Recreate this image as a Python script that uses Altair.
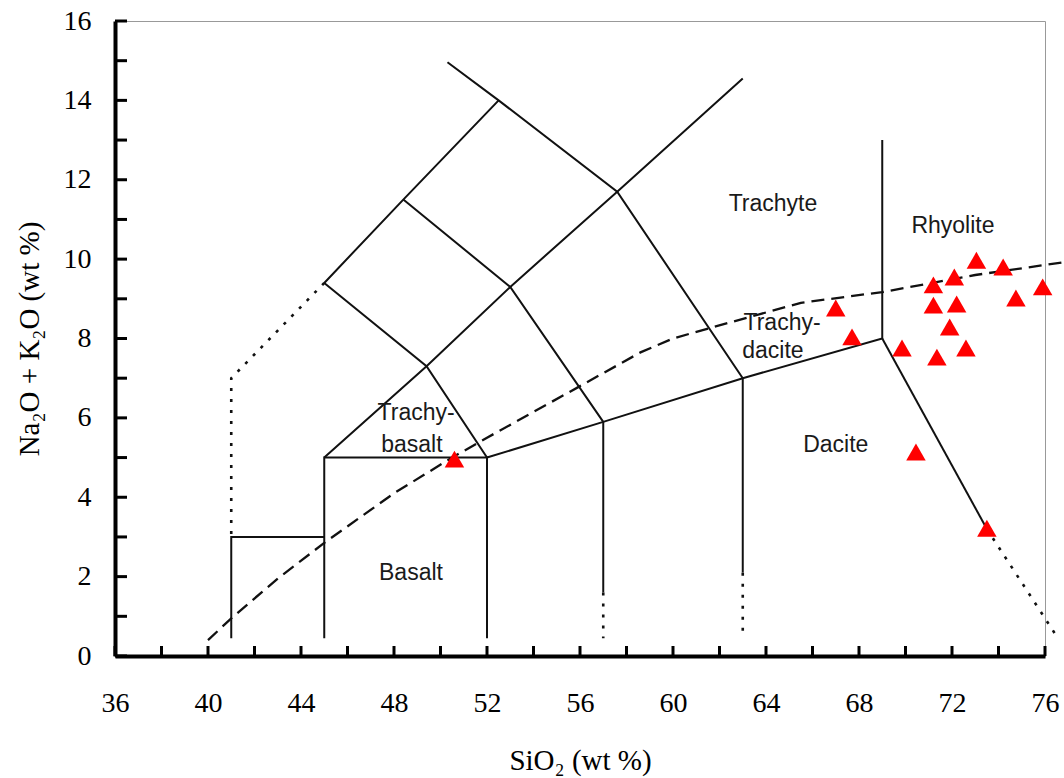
import altair as alt
import pandas as pd

# ---- sample data (SiO2 wt%, Na2O+K2O wt%) ----
sample_sio2 = [67.0, 67.7, 69.85, 71.35, 72.6, 71.9, 71.2, 72.2, 71.2, 72.1,
               73.05, 74.2, 74.75, 75.9, 70.45, 73.5, 50.6]
sample_alk = [8.77, 8.04, 7.76, 7.53, 7.76, 8.29, 8.84, 8.87, 9.35, 9.55,
              9.97, 9.8, 9.02, 9.3, 5.14, 3.22, 4.96]

# ---- TAS field boundaries: solid polylines ----
solid_lines = [
    ([41, 41, 45], [0.45, 3, 3]),
    ([45, 45, 52, 52], [0.45, 5, 5, 0.45]),
    ([52, 57, 63, 69, 69], [5, 5.9, 7, 8, 13]),
    ([45, 49.4, 53, 57.6, 63], [5, 7.3, 9.3, 11.7, 14.55]),
    ([50.3, 52.5, 57.6, 63], [14.96, 14, 11.7, 7]),
    ([45, 48.4, 52.5], [9.4, 11.5, 14]),
    ([45, 49.4, 52], [9.4, 7.3, 5]),
    ([48.4, 53, 57], [11.5, 9.3, 5.9]),
    ([57, 57], [5.9, 1.6]),
    ([63, 63], [7, 2.1]),
    ([69, 73.5], [8, 3.2]),
]

# ---- dotted extensions ----
dotted_lines = [
    ([45, 41, 41], [9.4, 7, 3]),
    ([57, 57], [1.6, 0.45]),
    ([63, 63], [2.1, 0.55]),
    ([73.5, 76.5], [3.2, 0.5]),
]

# ---- dashed alkaline / subalkaline divide ----
dashed_sio2 = [40, 41, 43, 45, 48, 50.5, 52, 56, 58.6, 60, 61.2, 65.5, 69, 73, 76.8]
dashed_alk = [0.4, 0.95, 1.95, 2.85, 4.1, 5.0, 5.5, 6.8, 7.65, 8.0, 8.2, 8.9, 9.17, 9.6, 9.92]

# ---- field names ----
field_names = ["Trachyte", "Rhyolite", "Trachy-", "dacite", "Trachy-", "basalt", "Basalt", "Dacite"]
field_x = [64.3, 72.04, 64.69, 64.3, 48.95, 48.77, 48.73, 67.0]
field_y = [11.21, 10.66, 8.21, 7.51, 5.94, 5.14, 1.91, 5.14]

# ---- axis ticks ----
x_tick_values = list(range(36, 77, 2))
x_label_values = list(range(36, 77, 4))
y_tick_values = list(range(0, 17, 1))
y_label_values = list(range(0, 17, 2))


def lines_frame(lines):
    rows = []
    for k, (xs, ys) in enumerate(lines):
        for i, (x, y) in enumerate(zip(xs, ys)):
            rows.append({"id": k, "i": i, "x": x, "y": y})
    return pd.DataFrame(rows)


solid_df = lines_frame(solid_lines)
dotted_df = lines_frame(dotted_lines)
dashed_df = pd.DataFrame({"id": 0, "i": range(len(dashed_sio2)), "x": dashed_sio2, "y": dashed_alk})
samples_df = pd.DataFrame({"x": sample_sio2, "y": sample_alk})
labels_df = pd.DataFrame({"name": field_names, "x": field_x, "y": field_y})
xt_df = pd.DataFrame({"x": x_tick_values, "y": 0})
yt_df = pd.DataFrame({"x": 36, "y": y_tick_values})

xscale = alt.Scale(domain=[36, 76], nice=False, zero=False)
yscale = alt.Scale(domain=[0, 16], nice=False, zero=False)

serif = "Liberation Serif"
xaxis = alt.Axis(values=x_label_values, ticks=False, tickSize=0, grid=False,
                 labelPadding=33, labelFontSize=28, labelFont=serif, labelColor="black",
                 labelFlush=False, labelOverlap=False,
                 domainColor="black", domainWidth=4,
                 title="SiO₂ (wt %)", titleFont=serif, titleFontSize=29,
                 titleFontWeight="normal", titleColor="black",
                 titleX=465, titleY=113, titleAlign="center", titleBaseline="alphabetic")
yaxis = alt.Axis(values=y_label_values, ticks=False, tickSize=0, grid=False,
                 labelPadding=24, labelFontSize=28, labelFont=serif, labelColor="black",
                 labelFlush=False, labelOverlap=False,
                 domainColor="black", domainWidth=4,
                 title="Na₂O + K₂O (wt %)", titleFont=serif, titleFontSize=29,
                 titleFontWeight="normal", titleColor="black",
                 titleAngle=270, titleX=-77, titleY=317.5, titleAlign="center",
                 titleBaseline="alphabetic")

X = alt.X("x:Q", scale=xscale, axis=xaxis)
Y = alt.Y("y:Q", scale=yscale, axis=yaxis)
Xn = alt.X("x:Q", scale=xscale)
Yn = alt.Y("y:Q", scale=yscale)

solid = alt.Chart(solid_df).mark_line(color="#111111", strokeWidth=2).encode(
    x=X, y=Y, detail="id:N", order="i:Q")
dotted = alt.Chart(dotted_df).mark_line(color="#111111", strokeWidth=2.6, strokeDash=[3, 8]).encode(
    x=Xn, y=Yn, detail="id:N", order="i:Q")
dashed = alt.Chart(dashed_df).mark_line(color="#111111", strokeWidth=2.3, strokeDash=[13, 7]).encode(
    x=Xn, y=Yn, order="i:Q")
xticks = alt.Chart(xt_df).mark_tick(orient="vertical", color="black", size=10, thickness=3,
                                    opacity=1, yOffset=-5).encode(x=Xn, y=Yn)
yticks = alt.Chart(yt_df).mark_tick(orient="horizontal", color="black", size=12, thickness=3,
                                    opacity=1, xOffset=6).encode(x=Xn, y=Yn)
labels = alt.Chart(labels_df).mark_text(font="Liberation Sans", fontSize=23, color="#1a1a1a",
                                        align="center", baseline="alphabetic").encode(
    x=Xn, y=Yn, text="name:N")
points = alt.Chart(samples_df).mark_point(shape="triangle-up", filled=True, color="#ff0000",
                                          opacity=1, size=380).encode(x=Xn, y=Yn)

chart = alt.layer(solid, dotted, dashed, xticks, yticks, labels, points).properties(
    width=930, height=635,
    autosize=alt.AutoSizeParams(type="none"),
    padding={"left": 115, "top": 21, "right": 19, "bottom": 122},
    background="white",
).configure_view(stroke="#999999", strokeWidth=1)

chart.save("out.html", embed_options={"renderer": "svg", "actions": False})
